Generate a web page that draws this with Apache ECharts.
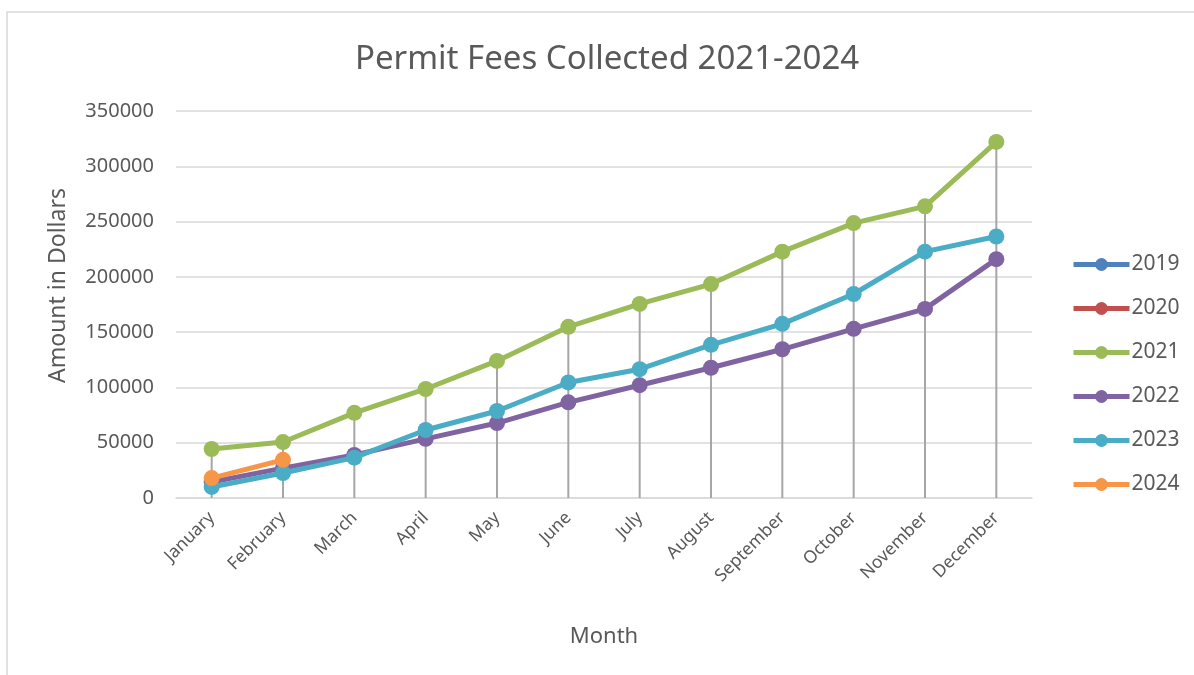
<!DOCTYPE html>
<html>
<head>
<meta charset="utf-8">
<script src="https://cdn.jsdelivr.net/npm/echarts@6/dist/echarts.min.js"></script>
<style>
  html, body { margin: 0; padding: 0; background: #fff; }
  #chart { width: 1194px; height: 675px; }
</style>
</head>
<body>
<div id="chart"></div>
<script>
const months = ['January', 'February', 'March', 'April', 'May', 'June', 'July',
  'August', 'September', 'October', 'November', 'December'];
const years = ['2019', '2020', '2021', '2022', '2023', '2024'];
const fees2019 = [];
const fees2020 = [];
const fees2021 = [44300, 50600, 77000, 98600, 124000, 154800, 175500, 193500, 222800, 248600, 263800, 322000];
const fees2022 = [14500, 27000, 39000, 53500, 67800, 86500, 102000, 117800, 134500, 153000, 171000, 216000];
const fees2023 = [10000, 22600, 36500, 61500, 78700, 104500, 116500, 138500, 157500, 184500, 222800, 236500];
const fees2024 = [18000, 34500];
const yTicks = [0, 50000, 100000, 150000, 200000, 250000, 300000, 350000];

const colors = ['#4F81BD', '#C0504D', '#9BBB59', '#8064A2', '#4BACC6', '#F79646'];
const allFees = [fees2019, fees2020, fees2021, fees2022, fees2023, fees2024];
const font = 'Noto Sans';

const chart = echarts.init(document.getElementById('chart'));

const lineSeries = years.map((y, i) => ({
  name: y,
  type: 'line',
  data: allFees[i],
  symbol: 'circle',
  symbolSize: 16,
  lineStyle: { width: 5, color: colors[i] },
  itemStyle: { color: colors[i] },
  z: 3 + i,
  animation: false
}));

// drop lines from the highest series down to the axis
const dropLines = {
  name: 'drop',
  type: 'bar',
  data: fees2021,
  barWidth: 2,
  itemStyle: { color: '#a6a6a6' },
  silent: true,
  z: 2,
  animation: false
};

chart.setOption({
  textStyle: { fontFamily: font, color: '#595959' },
  graphic: [{
    type: 'rect',
    shape: { x: 7, y: 12, width: 1200, height: 700 },
    style: { fill: 'none', stroke: '#d9d9d9', lineWidth: 1.5 },
    silent: true
  }],
  title: {
    text: 'Permit Fees Collected 2021-2024',
    left: 355,
    top: 43,
    padding: 0,
    textStyle: { fontFamily: font, fontSize: 33, fontWeight: 'normal', color: '#595959' }
  },
  legend: {
    data: years,
    orient: 'vertical',
    left: 1071,
    top: 254,
    padding: 0,
    itemWidth: 56,
    itemHeight: 16,
    itemGap: 23,
    lineStyle: { width: 5 },
    textStyle: { fontFamily: font, fontSize: 21, color: '#595959', padding: [0, 0, 0, -3] }
  },
  grid: { left: 176, right: 162, top: 111, bottom: 177 },
  xAxis: {
    type: 'category',
    data: months,
    name: 'Month',
    nameLocation: 'middle',
    nameGap: 128,
    nameTextStyle: { fontFamily: font, fontSize: 22, color: '#595959' },
    axisTick: { show: false },
    axisLine: { lineStyle: { color: '#d9d9d9', width: 1.5 } },
    axisLabel: { rotate: 45, interval: 0, fontSize: 17.5, color: '#595959', margin: 17, fontFamily: font }
  },
  yAxis: {
    type: 'value',
    min: yTicks[0],
    max: yTicks[yTicks.length - 1],
    interval: 50000,
    name: 'Amount in Dollars',
    nameLocation: 'middle',
    nameGap: 106,
    nameTextStyle: { fontFamily: font, fontSize: 23, color: '#595959', padding: [0, 0, 0, 38] },
    axisLine: { show: false },
    axisTick: { show: false },
    splitLine: { lineStyle: { color: '#d9d9d9', width: 1.5 } },
    axisLabel: { fontSize: 20, color: '#595959', margin: 22, fontFamily: font, formatter: v => String(v) }
  },
  series: [dropLines].concat(lineSeries)
});
</script>
</body>
</html>
